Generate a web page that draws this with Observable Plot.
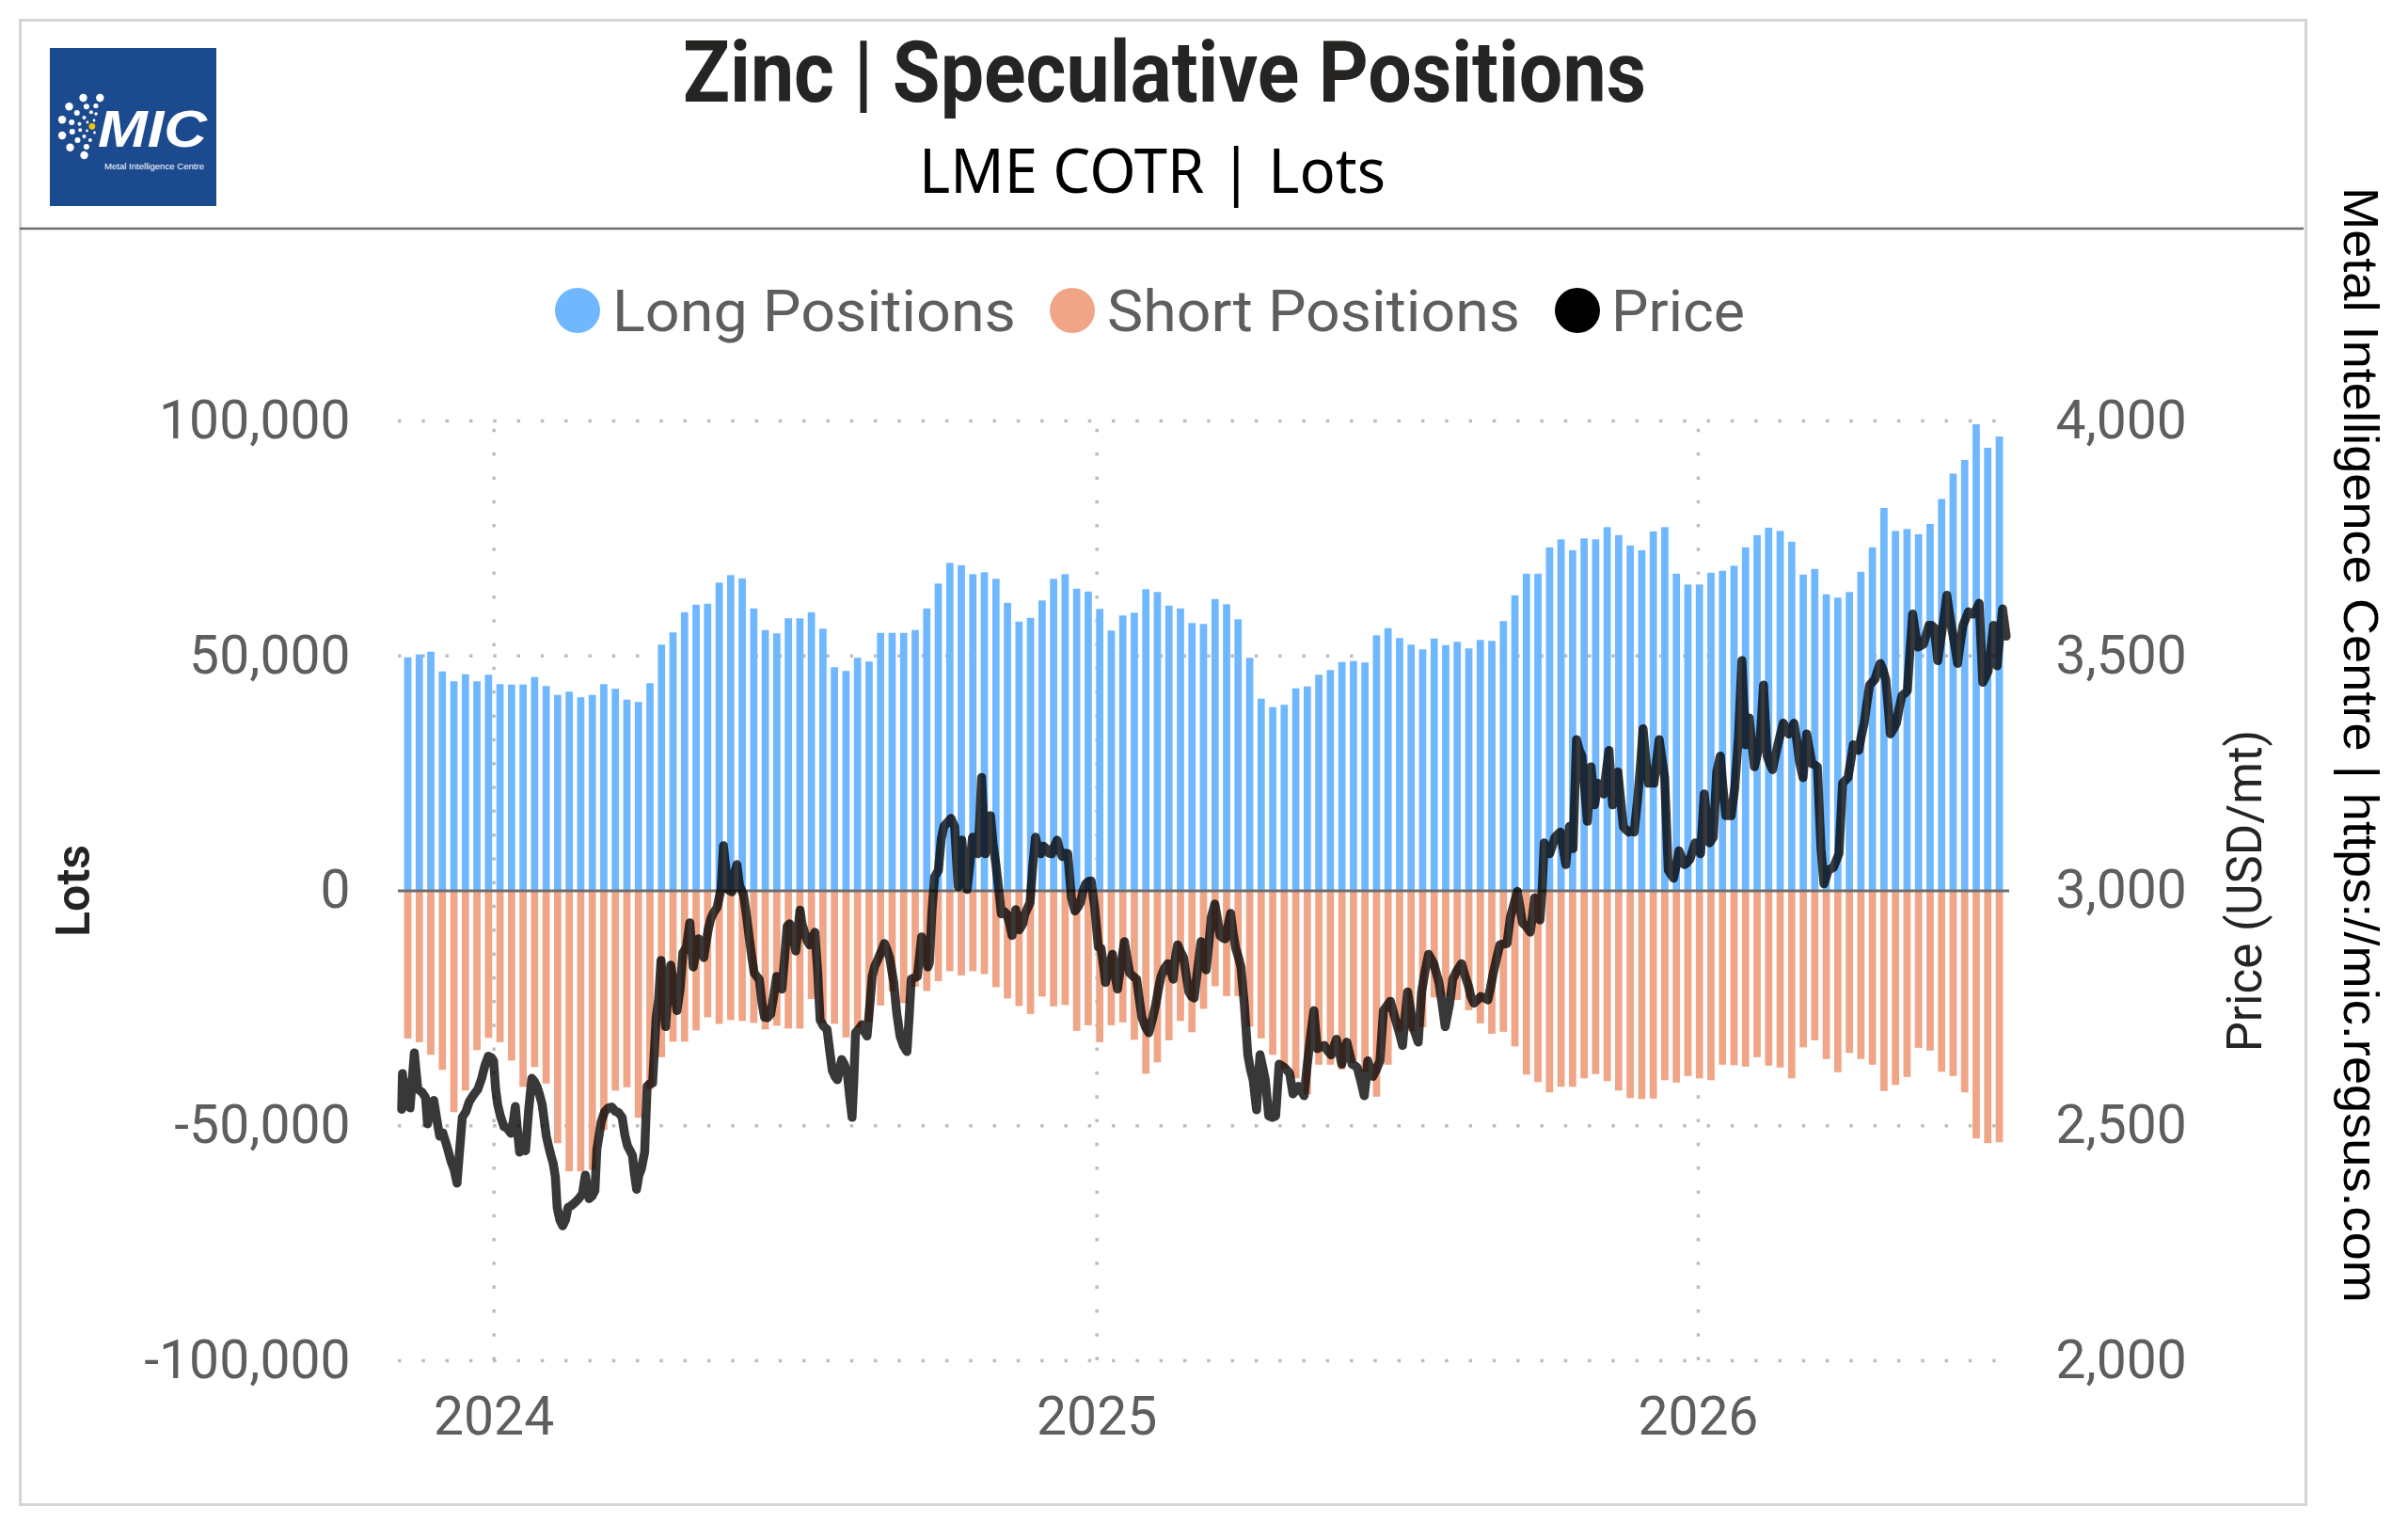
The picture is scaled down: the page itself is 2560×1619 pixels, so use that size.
<!DOCTYPE html>
<html>
<head>
<meta charset="utf-8">
<script src="https://cdn.jsdelivr.net/npm/d3@7"></script>
<script src="https://cdn.jsdelivr.net/npm/@observablehq/plot@0.6"></script>
<style>
  html, body { margin: 0; padding: 0; background: #ffffff; }
  body { width: 2560px; height: 1619px; position: relative; overflow: hidden; }
  #frame { position: absolute; left: 20px; top: 20px; width: 2427px; height: 1575px; border: 3px solid #d4d4d4; }
  #header { position: absolute; left: 0; top: 0; }
  #chart { position: absolute; left: 24px; top: 390px; }
  #caption { position: absolute; left: 2455px; top: 0; }
</style>
</head>
<body>
<div id="frame"></div>
<svg id="header" width="2450" height="385" xmlns="http://www.w3.org/2000/svg">
  <line x1="21" y1="243" x2="2449" y2="243" stroke="#6f6f6f" stroke-width="2.5"/>
  <g id="logo">
    <rect x="53" y="51" width="177" height="168" fill="#1c4a8f"/>
    <g fill="#ffffff">
      <circle cx="88.5" cy="104" r="4.2"/><circle cx="106.3" cy="104" r="4.2"/>
      <circle cx="73.5" cy="113.3" r="4.2"/><circle cx="66.1" cy="127.3" r="4.2"/>
      <circle cx="66.1" cy="144" r="4.2"/><circle cx="74.5" cy="156.7" r="4.2"/>
      <circle cx="89.5" cy="165" r="4.2"/>
      <circle cx="91.9" cy="113.3" r="3"/><circle cx="101.9" cy="112.5" r="2.6"/>
      <circle cx="81.8" cy="120" r="3"/><circle cx="76.2" cy="130" r="3"/>
      <circle cx="76.8" cy="140" r="3"/><circle cx="82.5" cy="149" r="3"/>
      <circle cx="91.9" cy="156" r="3"/>
      <circle cx="96.9" cy="119.3" r="2"/><circle cx="89.5" cy="125" r="2"/>
      <circle cx="84.5" cy="131.7" r="2"/><circle cx="85.2" cy="138.3" r="2"/>
      <circle cx="89.5" cy="145" r="2"/><circle cx="95.9" cy="149" r="2"/>
      <circle cx="102" cy="121" r="1.8"/>
      <circle cx="93" cy="130" r="1.4"/><circle cx="92.5" cy="139" r="1.4"/>
      <circle cx="100" cy="128" r="1.4"/><circle cx="100.5" cy="141" r="1.4"/>
    </g>
    <circle cx="97.9" cy="134.3" r="3.4" fill="#f4c20d"/>
    <text x="104" y="156" font-family="Liberation Sans, Arial, sans-serif" font-weight="700" font-style="italic" font-size="56" fill="#ffffff" textLength="116" lengthAdjust="spacingAndGlyphs">MIC</text>
    <text x="111" y="180" font-family="Liberation Sans, Arial, sans-serif" font-size="8.5" fill="#ffffff" textLength="106" lengthAdjust="spacingAndGlyphs">Metal Intelligence Centre</text>
  </g>
  <text x="1238" y="108" text-anchor="middle" font-family="Roboto, sans-serif" font-weight="700" font-size="90" fill="#252423" textLength="1024" lengthAdjust="spacingAndGlyphs">Zinc | Speculative Positions</text>
  <text x="1225" y="205" text-anchor="middle" font-family="Noto Sans, sans-serif" font-size="66" fill="#000000" textLength="496" lengthAdjust="spacingAndGlyphs">LME COTR | Lots</text>
  <g id="legend" font-family="Roboto, sans-serif" font-size="61" fill="#605e5c">
    <circle cx="614" cy="330" r="24" fill="#6fb8ff"/>
    <text x="651" y="352" textLength="429" lengthAdjust="spacingAndGlyphs">Long Positions</text>
    <circle cx="1140" cy="330" r="24" fill="#efa586"/>
    <text x="1177" y="352" textLength="439" lengthAdjust="spacingAndGlyphs">Short Positions</text>
    <circle cx="1677" cy="330" r="24" fill="#000000"/>
    <text x="1713" y="352" textLength="142" lengthAdjust="spacingAndGlyphs">Price</text>
  </g>
</svg>
<svg id="caption" width="105" height="1619" xmlns="http://www.w3.org/2000/svg">
  <text transform="translate(37,792) rotate(90)" text-anchor="middle" font-family="Liberation Sans Narrow, Arial Narrow, sans-serif" font-size="52" fill="#000000" textLength="1186" lengthAdjust="spacingAndGlyphs">Metal Intelligence Centre | https://mic.regsus.com</text>
</svg>
<div id="chart"></div>
<script>
// ---------------- DATA ----------------
// Weekly LME COTR speculative positions (thousand lots), first report week:
const firstWeek = "2023-11-10";
const longK = [
  49.6, 50.2, 50.8, 46.6, 44.5, 46.0, 44.5, 45.9, 43.9, 43.8,
  43.8, 45.4, 43.5, 41.6, 42.3, 41.1, 41.6, 43.9, 42.9, 40.6,
  40.1, 44.1, 52.3, 54.9, 59.2, 60.8, 61.0, 65.5, 67.1, 66.4,
  60.0, 55.4, 54.7, 57.9, 57.9, 59.2, 55.7, 47.5, 46.7, 49.5,
  48.7, 54.8, 54.8, 54.8, 55.4, 60.0, 65.3,
  69.7, 69.2, 67.3,
  67.7, 66.3, 61.2, 57.2, 58.0, 61.7, 66.3, 67.3, 64.2, 63.6,
  59.9, 55.3, 58.5, 59.1, 64.1, 63.5, 60.6, 60.0, 56.9, 56.7,
  62.0, 60.9, 57.7, 49.5, 40.8, 39.0, 39.5, 43.0, 43.4, 45.9,
  46.9, 48.6, 48.8, 48.5, 54.3, 55.8, 53.7, 52.3, 51.3, 53.6,
  52.2, 52.9, 51.5, 53.3, 53.1, 57.3, 62.8, 67.4, 67.4, 73.0,
  74.7, 72.4, 74.9, 74.7, 77.3, 75.6, 73.4, 72.4, 76.4, 77.3,
  67.4, 65.1, 65.1, 67.6, 68.0, 69.1, 73.0, 75.6, 77.2, 76.5,
  74.2, 67.2, 68.4, 63.0, 62.3, 63.5, 67.8, 73.0, 81.4, 76.5,
  76.9, 75.8, 78.0, 83.3, 88.7, 91.6, 99.2, 94.2, 96.6
];
const shortK = [
  -31.5, -32.3, -35.0, -38.2, -47.2, -42.6, -34.0, -31.4, -32.3, -36.2,
  -41.8, -37.6, -41.1, -53.8, -59.8, -59.8, -59.5, -51.0, -42.6, -41.9,
  -48.4, -42.3, -35.5, -32.2, -32.2, -29.8, -27.0, -28.4, -27.6, -27.8,
  -28.2, -29.6, -28.8, -29.4, -29.4, -23.1, -28.3, -28.4, -31.3, -29.3,
  -28.0, -24.5, -21.5, -24.0, -20.5, -21.4, -19.3,
  -17.2, -18.1, -17.2, -17.8, -20.6, -23.0, -24.6, -26.3, -22.6, -24.7,
  -24.4, -29.9, -28.7, -32.3, -28.7, -28.1, -31.8, -39.0, -36.6, -31.9,
  -27.8, -30.2, -25.2, -20.4, -22.5, -22.5,
  -29.0, -31.5, -35.0, -38.0, -40.0, -43.4, -37.1, -37.1, -38.1, -36.7, -38.7,
  -43.9, -37.1, -30.0, -30.0, -29.1, -22.8, -22.5, -23.3, -25.5,
  -28.3, -30.5, -30.1, -33.2, -39.2, -40.8, -43.0, -41.8, -41.8, -40.0,
  -39.1, -40.6, -42.6, -44.2, -44.4, -44.3, -40.4, -40.9, -39.5, -40.0,
  -40.4, -37.1, -37.2, -37.5, -35.5, -37.3, -37.7, -40.0, -33.4, -31.9,
  -35.9, -38.7, -34.6, -35.9, -37.1, -42.7, -41.4, -39.7, -33.5, -34.1,
  -38.6, -39.5, -43.0, -52.8, -53.8, -53.6
];

// Zinc price (USD/mt): day offset from 2024-01-01 and price
const priceDay = [
  -56, -55.5, -54.5, -53, -52, -50.9, -48.3, -46.2, -43.5, -41.5,
  -40.3, -38.5, -36.5, -34.5, -32.9, -31, -29.8, -28, -26, -24,
  -22.4, -21, -19.2, -17, -15, -12.5, -9.7, -7.5, -5.5, -3.4,
  -1.5, -0.2, 1, 2.3, 4, 6.1, 8, 10.3, 11.8, 13,
  14.3, 15.6, 17.5, 19.2, 21, 23, 24.5, 26.1, 27.8, 29.3,
  31.8, 33.3, 34.6, 36, 37.3, 38.4, 40, 41.7, 43.5, 45,
  47, 49.3, 51.5, 53.7, 55.5, 57.8, 59.5, 61.3, 62.5, 65.1,
  67.2, 69.4, 71.5, 73.6, 75.7, 77.8, 79.5, 81, 84.1, 85.2,
  86.6, 88, 89.4, 91.5, 93, 94.8, 96.3, 97.4, 98.5, 100,
  101.4, 102.8, 104.2, 105.8, 107.3, 109.2, 111.1, 113, 114.7, 116.8,
  118.9, 121, 122.6, 124.2, 125.8, 127.4, 128.8, 130.1, 131.6, 133.1,
  135.5, 137.9, 139.3, 140.7, 142, 144.5, 146.2, 147.5, 149.2, 151.5,
  153.2, 154.8, 156.5, 158, 161.1, 162.8, 164.3, 166, 168, 170,
  171.6, 173.2, 174.8, 176.5, 178, 179.5, 181.1, 183.2, 185.8, 187,
  188.5, 190, 191.7, 193.2, 194.8, 196.5, 198, 200, 202.2, 203.8,
  205.4, 207, 208.5, 211.1, 212.8, 214.5, 216, 217.4, 218.5, 219.5,
  221.4, 223.3, 225, 226.5, 228, 229.6, 231.2, 232.8, 235, 237,
  238.6, 240.2, 242.7, 244.5, 246.5, 248.6, 250.7, 252, 253.3, 255.2,
  257, 259.6, 261.5, 263.4, 264.3, 265.9, 267.5, 269.8, 271.5, 273.1,
  275.2, 277.4, 279.6, 281.8, 283, 284, 285.5, 287.2, 289, 290.5,
  292.2, 293.8, 295, 296, 297.2, 298.2, 299.8, 301.4, 303, 304.7,
  306.5, 308, 310, 311.2, 313, 314.5, 316.7, 318.9, 321, 322.2,
  325.4, 327, 328.7, 330.3, 332, 333.6, 335.2, 337, 338.5, 340.2,
  341.8, 343.5, 345, 346.7, 348.3, 350.5, 352.7, 354.4, 356, 357.6,
  359.2, 361, 362.5, 364.7, 366.9, 368.5, 370, 371.2, 373.3, 375.4,
  377, 378.5, 380.5, 382.7, 384.2, 385.9, 388, 390.1, 391.7, 393.3,
  395.5, 397.5, 399.6, 401.7, 403.3, 404.9, 407, 409.1, 410.7, 412.3,
  413.7, 415, 416.8, 418.6, 420.2, 421.8, 423.5, 425, 427, 429.2,
  430.8, 432.3, 434, 435.5, 437.6, 439.2, 440.7, 442.3, 443.9, 445.5,
  447.1, 448.7, 450.2, 451.8, 453.4, 455.5, 457.6, 459.2, 460.8, 462.9,
  464, 465, 466.6, 468.2, 470.3, 472.5, 474.5, 476.6, 478.2, 479.8,
  481.4, 483, 485, 486.6, 488.2, 490, 491.8, 493.5, 495.6, 497.7,
  499.8, 502, 504, 506, 508.2, 509.8, 511.4, 513, 514.6, 516.2,
  517.7, 519.3, 520.9, 522.5, 524, 526.2, 528.3, 529.4, 530.4, 532,
  533.5, 535.7, 537.8, 539.9, 542, 544.1, 545.7, 547.3, 549.4, 551.5,
  553, 554.6, 556.2, 557.8, 559.4, 561, 563.1, 565.2, 567.3, 568.9,
  570.5, 572, 573.6, 575.5, 577.4, 579, 580, 582, 584.5, 587.3,
  589.4, 591.5, 593, 594.8, 597, 599, 601.2, 603.3, 605, 606.4,
  608.5, 610.6, 612.8, 614.9, 617, 619, 621.2, 622.8, 624.3, 626.5,
  629, 630.5, 631.7, 633.3, 634.9, 636.2, 637.5, 639.2, 640.8, 642.4,
  644, 645.7, 647.3, 649, 650.6, 652.8, 655, 657.1, 658.8, 660.4,
  662, 663.7, 665.9, 668.1, 670.2, 671.9, 673.5, 675, 676.8, 679,
  680.6, 682.2, 684, 685.5, 687.2, 688.8, 690.5, 692.1, 694.2, 696,
  697.5, 699.2, 700.8, 702.5, 704.1, 705.8, 707.3, 709, 710.6, 712.8,
  714.4, 716, 717.7, 719.3, 721, 722.6, 724.2, 725.9, 727.5, 729.1,
  730.8, 732.4, 734.6, 736.3, 737.9, 740.1, 742.2, 744.4, 746, 747.7,
  749.4, 751, 753.1, 755.3, 757.5, 759.7, 761.9, 763.5, 765.1, 766.8,
  768.4, 770.6, 772.8, 774.5, 776.1, 777.7, 779.3, 781, 782.6, 784.3,
  785.9, 787.5, 789.1, 790.8, 792.4, 794.6, 796.8, 798.5, 800.1, 801.7,
  803.3, 805.5, 807.3, 809.9, 811.5, 813.1, 814.8, 816.4, 818.6, 820.3,
  821.9, 823.5, 825.1, 826.8, 828.4, 830, 831.7, 833.4, 835, 836.6,
  838.2, 840, 841.5, 843.2, 844.8, 846.3, 847.6, 849.5, 851.3, 853,
  854.6, 856.3, 857.9, 859.5, 861.1, 862.8, 864.4, 866, 867.7, 869.4,
  871, 872.6, 874.2, 876.4, 878, 879.7, 881.9, 883.5, 885.1, 886.8,
  888.4, 890, 891.7, 893.4, 895, 896.6, 898.2, 899.9, 901.5, 903.7,
  905.3, 906.9, 908.6, 910.2, 912.4, 914, 915.7, 917.9
];
const priceUSD = [
  2535, 2611, 2560, 2545, 2592, 2538, 2655, 2578, 2571, 2560,
  2504, 2540, 2554, 2510, 2478, 2485, 2471, 2450, 2424, 2405,
  2378, 2440, 2518, 2530, 2551, 2565, 2578, 2600, 2628, 2648,
  2645, 2638, 2580, 2545, 2520, 2498, 2495, 2484, 2510, 2541,
  2490, 2444, 2450, 2447, 2530, 2601, 2595, 2584, 2565, 2545,
  2478, 2455, 2437, 2420, 2391, 2326, 2300, 2287, 2300, 2326,
  2330, 2337, 2345, 2355, 2395, 2345, 2350, 2362, 2450, 2508,
  2530, 2538, 2540, 2531, 2528, 2518, 2480, 2458, 2437, 2400,
  2365, 2395, 2407, 2444, 2584, 2590, 2591, 2660, 2731, 2770,
  2852, 2780, 2711, 2790, 2842, 2800, 2745, 2790, 2868, 2880,
  2932, 2838, 2870, 2898, 2880, 2858, 2890, 2918, 2940, 2952,
  2965, 3005, 3096, 3050, 3003, 2998, 3040, 3056, 3010, 2992,
  2950, 2905, 2860, 2825, 2811, 2760, 2731, 2730, 2738, 2780,
  2818, 2800, 2791, 2860, 2925, 2930, 2912, 2872, 2959, 2930,
  2912, 2895, 2885, 2900, 2912, 2830, 2725, 2712, 2705, 2660,
  2618, 2605, 2598, 2641, 2630, 2611, 2560, 2518, 2600, 2698,
  2705, 2715, 2700, 2691, 2750, 2818, 2840, 2852, 2870, 2888,
  2875, 2858, 2805, 2740, 2691, 2670, 2658, 2730, 2812, 2815,
  2818, 2902, 2870, 2838, 2847, 2958, 3030, 3044, 3110, 3137,
  3145, 3154, 3137, 3009, 3060, 3108, 3050, 3003, 3060, 3114,
  3090, 3079, 3160, 3241, 3150, 3079, 3120, 3160, 3100, 3056,
  3000, 2951, 2955, 2951, 2930, 2905, 2960, 2917, 2930, 2950,
  2975, 3050, 3114, 3090, 3079, 3095, 3090, 3080, 3079, 3095,
  3108, 3085, 3073, 3080, 3079, 2986, 2957, 2965, 2975, 3000,
  3015, 3020, 3021, 2963, 2880, 2878, 2840, 2805, 2835, 2865,
  2820, 2791, 2840, 2892, 2860, 2825, 2818, 2812, 2770, 2731,
  2710, 2698, 2725, 2758, 2790, 2818, 2835, 2845, 2830, 2812,
  2860, 2885, 2870, 2858, 2820, 2785, 2775, 2772, 2830, 2892,
  2860, 2832, 2890, 2945, 2972, 2940, 2905, 2900, 2898, 2925,
  2952, 2910, 2878, 2860, 2838, 2758, 2651, 2620, 2598, 2534,
  2600, 2651, 2625, 2598, 2521, 2518, 2521, 2631, 2628, 2624,
  2618, 2611, 2568, 2575, 2584, 2575, 2564, 2624, 2690, 2745,
  2664, 2668, 2671, 2660, 2651, 2668, 2684, 2660, 2631, 2655,
  2678, 2655, 2631, 2628, 2624, 2595, 2564, 2600, 2638, 2620,
  2605, 2620, 2638, 2745, 2755, 2765, 2745, 2725, 2700, 2671,
  2730, 2785, 2750, 2711, 2695, 2678, 2785, 2830, 2865, 2855,
  2845, 2825, 2805, 2760, 2711, 2740, 2758, 2812, 2830, 2845,
  2820, 2798, 2775, 2761, 2768, 2775, 2772, 2768, 2795, 2822,
  2855, 2885, 2887, 2888, 2945, 2970, 2999, 2965, 2932, 2925,
  2912, 2950, 2985, 2960, 2938, 3000, 3102, 3090, 3079, 3095,
  3114, 3120, 3125, 3090, 3056, 3137, 3090, 3322, 3300, 3287,
  3220, 3148, 3264, 3183, 3229, 3215, 3206, 3250, 3299, 3183,
  3220, 3253, 3190, 3137, 3130, 3125, 3128, 3125, 3195, 3270,
  3345, 3280, 3229, 3229, 3229, 3280, 3322, 3280, 3241, 3044,
  3035, 3027, 3055, 3085, 3070, 3056, 3060, 3067, 3085, 3102,
  3090, 3079, 3206, 3150, 3102, 3114, 3253, 3287, 3220, 3160,
  3160, 3160, 3218, 3322, 3490, 3311, 3368, 3315, 3264, 3290,
  3311, 3438, 3287, 3270, 3258, 3285, 3311, 3335, 3357, 3345,
  3334, 3345, 3357, 3320, 3276, 3241, 3334, 3300, 3270, 3268,
  3264, 3090, 3015, 3044, 3047, 3050, 3065, 3079, 3229, 3235,
  3241, 3275, 3311, 3305, 3299, 3330, 3357, 3400, 3438, 3444,
  3450, 3470, 3484, 3470, 3450, 3390, 3334, 3345, 3357, 3390,
  3415, 3420, 3426, 3510, 3589, 3550, 3519, 3522, 3525, 3545,
  3565, 3565, 3560, 3490, 3530, 3571, 3629, 3590, 3554, 3520,
  3484, 3525, 3565, 3580, 3594, 3590, 3589, 3600, 3612, 3444,
  3455, 3467, 3515, 3565, 3479, 3540, 3600, 3542
];

// Axis ticks
const yearTicks = ["2024-01-01", "2025-01-01", "2026-01-01"];
const lotTicks = [-100000, -50000, 0, 50000, 100000];
const priceTicks = [2000, 2500, 3000, 3500, 4000];
const xDomain = ["2023-11-04", "2026-07-09"];

// ---------------- BUILD ----------------
const startWeek = new Date(firstWeek + "T00:00:00Z");
const weeks = longK.map((v, i) => ({
  date: d3.utcDay.offset(startWeek, 7 * i),
  long: v * 1000,
  short: shortK[i] * 1000
}));
const day0 = Date.UTC(2024, 0, 1);
const prices = priceDay.map((d, i) => ({
  date: new Date(day0 + d * 864e5),
  price: priceUSD[i]
}));
// price axis is aligned so that 3,000 USD/mt sits on the 0 lots line, 1 USD = 100 lots
const toLots = p => (p - 3000) * 100;
const fromLots = v => v / 100 + 3000;
const fmt = d3.format(",");
const fmtLots = v => (v < 0 ? "-" + fmt(-v) : fmt(v));
const yearDates = yearTicks.map(s => new Date(s + "T00:00:00Z"));
const gridStyle = {stroke: "#bdbdbd", strokeWidth: 3.5, strokeDasharray: "3.5,21.8"};

const chart = Plot.plot({
  width: 2422,
  height: 1200,
  marginLeft: 399,
  marginRight: 310,
  marginTop: 57,
  marginBottom: 144,
  style: {fontFamily: "Roboto, sans-serif", fontSize: "57px", color: "#605e5c", background: "transparent", overflow: "visible"},
  x: {type: "utc", domain: xDomain.map(s => new Date(s + "T00:00:00Z"))},
  y: {domain: [lotTicks[0], lotTicks[lotTicks.length - 1]]},
  marks: [
    Plot.ruleY(lotTicks.filter(v => v !== 0), gridStyle),
    Plot.ruleX(yearDates, {y1: lotTicks[0], y2: lotTicks[lotTicks.length - 1], ...gridStyle}),
    Plot.rect(weeks, {
      x1: d => d3.utcHour.offset(d.date, -53),
      x2: d => d3.utcHour.offset(d.date, 53),
      y1: 0, y2: "long", fill: "#6fb8ff"
    }),
    Plot.rect(weeks, {
      x1: d => d3.utcHour.offset(d.date, -53),
      x2: d => d3.utcHour.offset(d.date, 53),
      y1: 0, y2: "short", fill: "#efa586"
    }),
    Plot.ruleY([0], {stroke: "#6e6e6e", strokeWidth: 3}),
    Plot.line(prices, {
      x: "date", y: d => toLots(d.price),
      stroke: "#000000", strokeOpacity: 0.78, strokeWidth: 9.5,
      strokeLinejoin: "round", strokeLinecap: "round"
    }),
    Plot.axisX({ticks: yearDates, tickFormat: d3.utcFormat("%Y"), tickSize: 0, tickPadding: 38, label: null}),
    Plot.axisY({anchor: "left", ticks: lotTicks, tickFormat: fmtLots, tickSize: 0, tickPadding: 51, label: null}),
    Plot.axisY({anchor: "right", ticks: priceTicks.map(toLots), tickFormat: v => fmt(fromLots(v)), tickSize: 0, tickPadding: 49, label: null}),
    Plot.text(["Lots"], {text: d => d, frameAnchor: "left", textAnchor: "middle", dx: -345, rotate: -90, fontSize: 50, fontWeight: 600, fill: "#252423"}),
    Plot.text(["Price (USD/mt)"], {text: d => d, frameAnchor: "right", textAnchor: "middle", dx: 251, rotate: -90, fontSize: 51, fill: "#252423"})
  ]
});
document.getElementById("chart").appendChild(chart);
</script>
</body>
</html>
